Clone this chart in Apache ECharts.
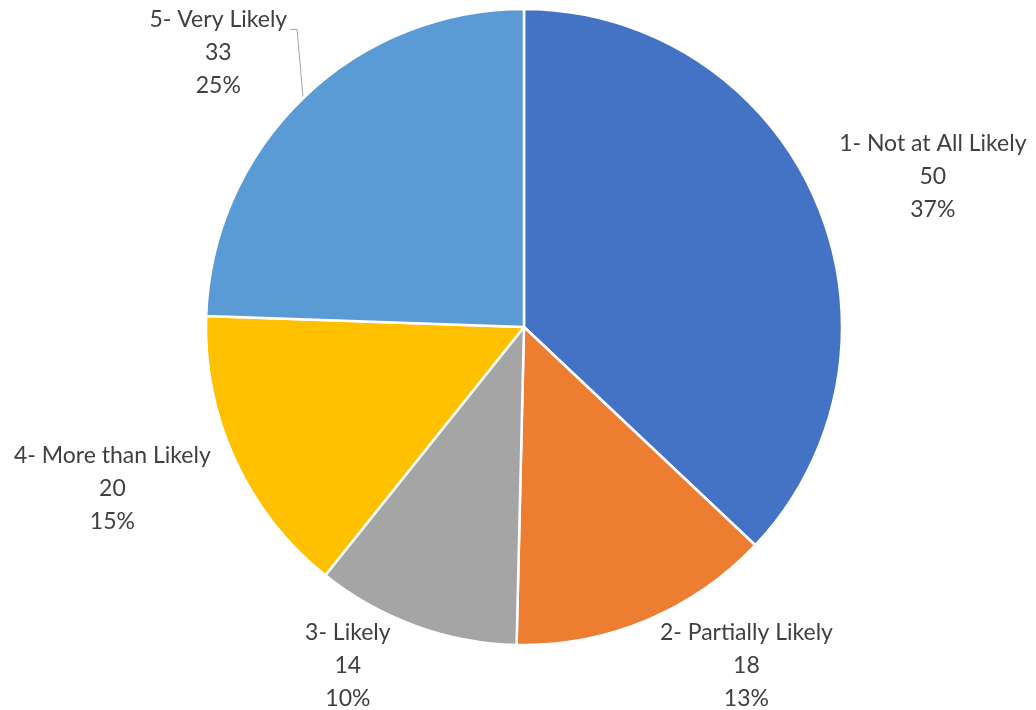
<!DOCTYPE html>
<html>
<head>
<meta charset="utf-8">
<script src="https://cdn.jsdelivr.net/npm/echarts@6/dist/echarts.min.js"></script>
<style>
html,body{margin:0;padding:0;background:#fff;}
#chart{width:1036px;height:710px;}
</style>
</head>
<body>
<div id="chart"></div>
<script>
const categories = ['1- Not at All Likely', '2- Partially Likely', '3- Likely', '4- More than Likely', '5- Very Likely'];
const values = [50, 18, 14, 20, 33];
const colors = ['#4472C4', '#ED7D31', '#A5A5A5', '#FFC000', '#5B9BD5'];
// label leader distances (style): [radial length, horizontal length]
const labelLens = [[63, 54], [49, 76], [42, 48], [70, 54], [63, 36]];

const data = categories.map((name, i) => ({
  name: name,
  value: values[i],
  itemStyle: { color: colors[i] },
  labelLine: {
    show: true,
    length: labelLens[i][0],
    length2: labelLens[i][1],
    lineStyle: i === 4 ? { color: '#A6A6A6', width: 1 } : { opacity: 0, width: 0 }
  }
}));

const chart = echarts.init(document.getElementById('chart'), null, { renderer: 'canvas' });
chart.setOption({
  backgroundColor: '#ffffff',
  animation: false,
  series: [{
    type: 'pie',
    center: [524, 327],
    radius: [0, 318],
    startAngle: 90,
    clockwise: true,
    avoidLabelOverlap: false,
    percentPrecision: 0,
    itemStyle: { borderColor: '#ffffff', borderWidth: 2.5 },
    label: {
      show: true,
      position: 'outside',
      alignTo: 'none',
      formatter: '{b}\n{c}\n{d}%',
      fontFamily: 'Lato',
      fontSize: 23,
      lineHeight: 33,
      color: '#404040'
    },
    labelLayout: function (params) {
      const r = params.labelRect;
      const leftSide = params.align === 'right';
      const anchorX = leftSide ? r.x + r.width : r.x;
      const out = { align: 'center', verticalAlign: 'middle' };
      if (params.dataIndex === 4 && params.labelLinePoints) {
        const p0 = params.labelLinePoints[0];
        const yL = r.y + 26;
        const rightEdge = anchorX + r.width / 2;
        out.labelLinePoints = [[p0[0], p0[1]], [p0[0] - 6, yL], [rightEdge + 3, yL]];
      }
      return out;
    },
    data: data
  }]
});
</script>
</body>
</html>
